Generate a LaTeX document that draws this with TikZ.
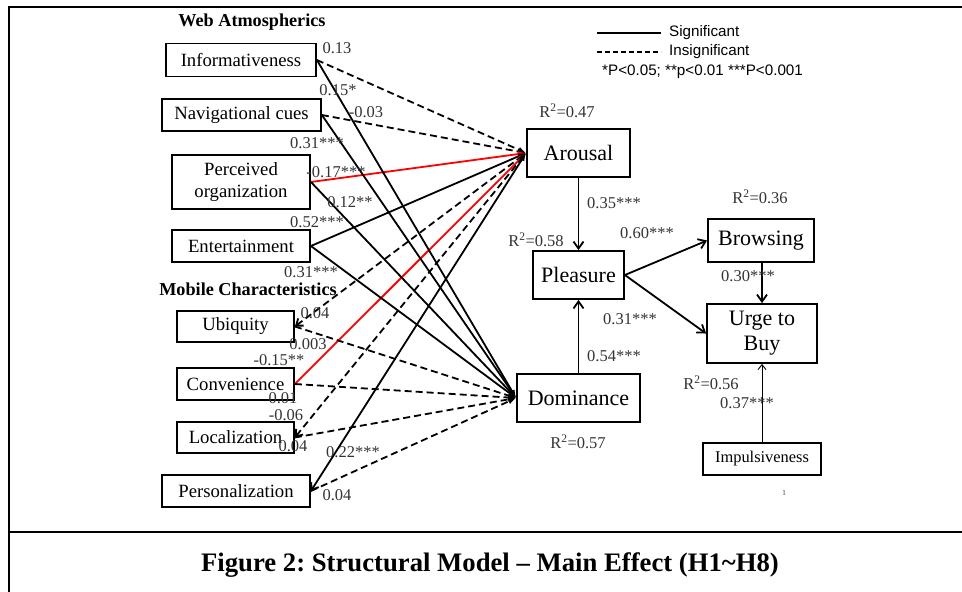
\documentclass[tikz,border=0pt]{standalone}
\usepackage{fontspec}
\setmainfont{Liberation Serif}
\newfontfamily\legendfont{Liberation Sans}
\usetikzlibrary{arrows.meta}
\frenchspacing
\begin{document}
\begin{tikzpicture}[x=1pt,y=-1pt,
  box/.style={draw, line width=1.8pt, inner sep=0pt, align=center, font=\fontsize{18.7}{22}\selectfont},
  bigbox/.style={draw, line width=1.8pt, inner sep=0pt, align=center, font=\fontsize{22}{25}\selectfont},
  coef/.style={inner sep=0pt, text=black!80, font=\fontsize{16.5}{18}\selectfont},
  heading/.style={inner sep=0pt, font=\fontsize{18.2}{20}\selectfont\bfseries},
  legtext/.style={inner sep=0pt, anchor=west, font=\legendfont\fontsize{15.2}{17}\selectfont},
  sig/.style={line width=1.8pt},
  insig/.style={line width=1.8pt, dash pattern=on 7pt off 4pt},
  redl/.style={line width=1.8pt, red},
  tipA/.style={-{Latex[length=8pt,width=6pt]}},
  tipB/.style={{Straight Barb[length=6pt,width=9pt]}-{Latex[length=8pt,width=6pt]}},
  flow/.style={line width=1.8pt, -{Straight Barb[length=7pt,width=10pt]}},
  frame/.style={line width=2pt}
]
\useasboundingbox (0,0) rectangle (962,592);
% frame
\coordinate (f1) at (9,592);
\coordinate (f2) at (9,7);
\coordinate (f3) at (962,7);
\coordinate (s1) at (9,532);
\coordinate (s2) at (962,532);
\draw[frame] (f1) -- (f2) -- (f3);
\draw[frame] (s1) -- (s2);
\node[inner sep=0pt, font=\fontsize{26.7}{30}\selectfont\bfseries] (caption) at (490,565) {Figure 2: Structural Model -- Main Effect (H1\textasciitilde H8)};

% headings
\node[heading] (webh) at (252,22) {Web Atmospherics};
\node[heading] (mobh) at (248,289) {Mobile Characteristics};

% left boxes
\node[box, minimum width=150pt, minimum height=33pt] (info) at (241,60) {Informativeness};
\node[box, minimum width=159pt, minimum height=32pt] (nav) at (241.5,115) {Navigational cues};
\node[box, minimum width=138pt, minimum height=54pt] (perc) at (241,182) {Perceived\\organization};
\node[box, minimum width=138pt, minimum height=32pt] (ent) at (241,246) {Entertainment};
\node[box, minimum width=117pt, minimum height=31pt] (ubi) at (235.5,326.5) {Ubiquity};
\node[box, minimum width=117pt, minimum height=32pt] (conv) at (235.5,384) {Convenience};
\node[box, minimum width=117pt, minimum height=31pt] (loc) at (235.5,437.5) {Localization};
\node[box, minimum width=148pt, minimum height=32pt] (pers) at (236,491) {Personalization};

% right boxes
\node[bigbox, minimum width=103pt, minimum height=48pt] (arousal) at (578.5,153) {Arousal};
\node[bigbox, minimum width=91pt, minimum height=48pt] (pleasure) at (578.5,275) {Pleasure};
\node[bigbox, minimum width=123pt, minimum height=48pt] (dominance) at (578.5,398) {Dominance};
\node[bigbox, minimum width=106pt, minimum height=43pt] (browsing) at (761,240.5) {Browsing};
\node[bigbox, minimum width=110pt, minimum height=59pt] (urge) at (762,333.5) {Urge to\\Buy};
\node[draw, line width=1.1pt, inner sep=0pt, minimum width=118pt, minimum height=32pt, font=\fontsize{16.4}{18}\selectfont] (impuls) at (762,459) {Impulsiveness};
\node[inner sep=0pt, text=black!70, font=\fontsize{8}{9}\selectfont] (pagenum) at (784,493) {1};

\coordinate (aIn) at (arousal.west);
\coordinate (dIn) at (dominance.west);

% paths to Arousal
\draw[insig, tipA] (info.east) -- (aIn);
\draw[insig, tipA] (nav.east) -- (aIn);
\draw[redl, tipA] (perc.east) -- (aIn);
\draw[sig, tipA] (ent.east) -- (aIn);
\draw[insig, tipB] (ubi.east) -- (aIn);
\draw[redl, tipA] (conv.east) -- (aIn);
\draw[insig, tipB] (loc.east) -- (aIn);
\draw[sig, tipB] (pers.east) -- (aIn);

% paths to Dominance
\draw[sig, tipA] (info.east) -- (dIn);
\draw[sig, tipA] (nav.east) -- (dIn);
\draw[sig, tipA] (perc.east) -- (dIn);
\draw[sig, tipA] (ent.east) -- (dIn);
\draw[insig, tipA] (ubi.east) -- (dIn);
\draw[insig, tipA] (conv.east) -- (dIn);
\draw[insig, tipA] (loc.east) -- (dIn);
\draw[insig, tipA] (pers.east) -- (dIn);

% right side flows
\draw[flow] (arousal.south) -- (pleasure.north);
\draw[flow] (dominance.north) -- (pleasure.south);
\draw[flow] (pleasure.east) -- (browsing.west);
\draw[flow] (pleasure.east) -- (urge.west);
\draw[flow] (browsing.south -| urge.north) -- (urge.north);
\draw[line width=0.9pt, -{Straight Barb[length=5pt,width=8pt]}] (impuls.north) -- (urge.south);

% coefficients
\node[coef] (c1) at (337,48) {0.13};
\node[coef] (c2) at (338,90) {0.15*};
\node[coef] (c3) at (366,112) {-0.03};
\node[coef] (c4) at (317,143) {0.31***};
\node[coef] (c5) at (336,172) {-0.17***};
\node[coef] (c6) at (350,202) {0.12**};
\node[coef] (c7) at (317,222) {0.52***};
\node[coef] (c8) at (311,272) {0.31***};
\node[coef] (c9) at (315,313) {0.04};
\node[coef] (c10) at (308,344) {0.003};
\node[coef] (c11) at (279,360) {-0.15**};
\node[coef] (c12) at (283,398) {0.01};
\node[coef] (c13) at (286,415) {-0.06};
\node[coef] (c14) at (293,446) {0.04};
\node[coef] (c15) at (353,452) {0.22***};
\node[coef] (c16) at (337,495) {0.04};

\node[coef] (r1) at (567,111) {R\textsuperscript{2}=0.47};
\node[coef] (r2) at (536,240) {R\textsuperscript{2}=0.58};
\node[coef] (r3) at (760,197) {R\textsuperscript{2}=0.36};
\node[coef] (r4) at (711,383) {R\textsuperscript{2}=0.56};
\node[coef] (r5) at (578,442) {R\textsuperscript{2}=0.57};
\node[coef] (c17) at (614,203) {0.35***};
\node[coef] (c18) at (647,233) {0.60***};
\node[coef] (c19) at (748,276) {0.30***};
\node[coef] (c20) at (630,319) {0.31***};
\node[coef] (c21) at (614,356) {0.54***};
\node[coef] (c22) at (747,403) {0.37***};

% legend
\coordinate (l1a) at (597,33);
\coordinate (l1b) at (661,33);
\coordinate (l2a) at (597,52);
\coordinate (l2b) at (661,52);
\draw[line width=1.8pt] (l1a) -- (l1b);
\draw[line width=1.8pt, dash pattern=on 5pt off 3pt] (l2a) -- (l2b);
\node[legtext] (lg1) at (669,33) {Significant};
\node[legtext] (lg2) at (669,52) {Insignificant};
\node[legtext] (lg3) at (602,72) {*P<0.05; **p<0.01 ***P<0.001};
\end{tikzpicture}
\end{document}
